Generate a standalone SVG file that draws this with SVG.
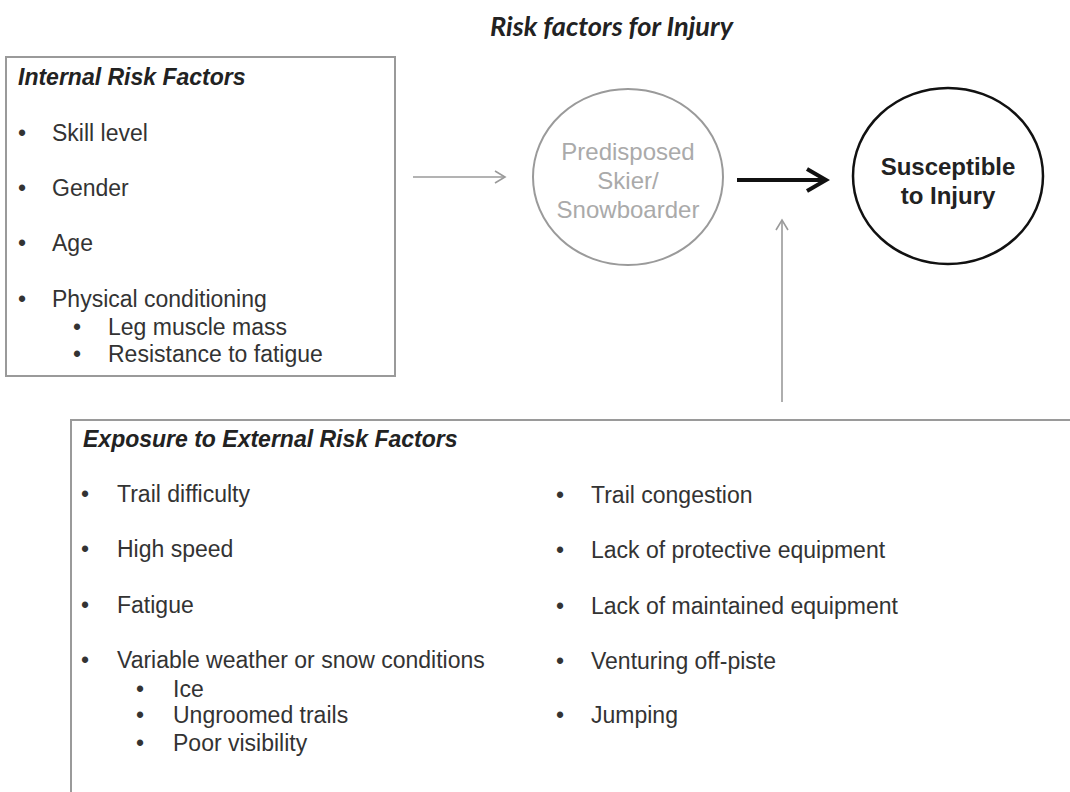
<svg xmlns="http://www.w3.org/2000/svg" width="1070" height="792" viewBox="0 0 1070 792">
<style>
  .box { fill: none; stroke: #9a9a9a; stroke-width: 2; }
  .hdr { font-family: "Liberation Sans", Arial, sans-serif; font-size: 23px; font-weight: bold; font-style: italic; fill: #222; }
  .item { font-family: "Liberation Sans", Arial, sans-serif; font-size: 23px; fill: #333; }
  .pre { font-family: "Liberation Sans", Arial, sans-serif; font-size: 24px; fill: #aaa; text-anchor: middle; }
  .sus { font-family: "Liberation Sans", Arial, sans-serif; font-size: 24px; font-weight: bold; fill: #222; text-anchor: middle; }
  .title { font-family: Lato, "Open Sans", sans-serif; font-size: 27px; font-weight: bold; font-style: italic; fill: #222; }
  .gline { stroke: #9a9a9a; stroke-width: 1.6; fill: none; }
  .bline { stroke: #111; stroke-width: 4; fill: none; }
</style>
<defs>
  <marker id="gh" markerUnits="userSpaceOnUse" viewBox="0 0 12 16" refX="11" refY="7" markerWidth="12" markerHeight="16" orient="auto" overflow="visible">
    <path d="M1,1 L11,7 L1,13" fill="none" stroke="#9a9a9a" stroke-width="1.6"/>
  </marker>
  <marker id="bh" markerUnits="userSpaceOnUse" viewBox="0 0 24 26" refX="21" refY="13" markerWidth="24" markerHeight="26" orient="auto" overflow="visible">
    <path d="M2,2 L21,13 L2,24" fill="none" stroke="#111" stroke-width="4"/>
  </marker>
</defs>
<rect width="1070" height="792" fill="#fff"/>

<g id="title">
  <text class="title" x="490" y="36" textLength="243" lengthAdjust="spacingAndGlyphs">Risk factors for Injury</text>
</g>

<g id="internal">
  <rect class="box" x="6" y="57" width="389" height="319"/>
  <text class="hdr" x="18" y="85">Internal Risk Factors</text>
  <text class="item" x="18" y="141">•</text><text class="item" x="52" y="141">Skill level</text>
  <text class="item" x="18" y="196">•</text><text class="item" x="52" y="196">Gender</text>
  <text class="item" x="18" y="251">•</text><text class="item" x="52" y="251">Age</text>
  <text class="item" x="18" y="307">•</text><text class="item" x="52" y="307">Physical conditioning</text>
  <text class="item" x="73" y="335">•</text><text class="item" x="108" y="335">Leg muscle mass</text>
  <text class="item" x="73" y="362">•</text><text class="item" x="108" y="362">Resistance to fatigue</text>
</g>

<g id="predisposed">
  <ellipse cx="628" cy="177" rx="95" ry="88" fill="none" stroke="#9a9a9a" stroke-width="2"/>
  <text class="pre" x="628" y="160">Predisposed</text>
  <text class="pre" x="628" y="189">Skier/</text>
  <text class="pre" x="628" y="218">Snowboarder</text>
</g>

<g id="susceptible">
  <ellipse cx="948" cy="176" rx="95" ry="88" fill="none" stroke="#111" stroke-width="2.5"/>
  <text class="sus" x="948" y="175">Susceptible</text>
  <text class="sus" x="948" y="204">to Injury</text>
</g>

<g id="external">
  <rect class="box" x="71" y="420" width="1010" height="400"/>
  <text class="hdr" x="83" y="447">Exposure to External Risk Factors</text>
  <text class="item" x="81" y="502">•</text><text class="item" x="117" y="502">Trail difficulty</text>
  <text class="item" x="81" y="557">•</text><text class="item" x="117" y="557">High speed</text>
  <text class="item" x="81" y="613">•</text><text class="item" x="117" y="613">Fatigue</text>
  <text class="item" x="81" y="668">•</text><text class="item" x="117" y="668">Variable weather or snow conditions</text>
  <text class="item" x="136" y="697">•</text><text class="item" x="173" y="697">Ice</text>
  <text class="item" x="136" y="723">•</text><text class="item" x="173" y="723">Ungroomed trails</text>
  <text class="item" x="136" y="751">•</text><text class="item" x="173" y="751">Poor visibility</text>
  <text class="item" x="556" y="503">•</text><text class="item" x="591" y="503">Trail congestion</text>
  <text class="item" x="556" y="558">•</text><text class="item" x="591" y="558">Lack of protective equipment</text>
  <text class="item" x="556" y="614">•</text><text class="item" x="591" y="614">Lack of maintained equipment</text>
  <text class="item" x="556" y="669">•</text><text class="item" x="591" y="669">Venturing off-piste</text>
  <text class="item" x="556" y="723">•</text><text class="item" x="591" y="723">Jumping</text>
</g>

<g id="connectors">
  <line class="gline" x1="413" y1="177" x2="505" y2="177" marker-end="url(#gh)"/>
  <line class="bline" x1="737" y1="180" x2="826" y2="180" marker-end="url(#bh)"/>
  <line class="gline" x1="782" y1="402" x2="782" y2="220" marker-end="url(#gh)"/>
</g>
</svg>
